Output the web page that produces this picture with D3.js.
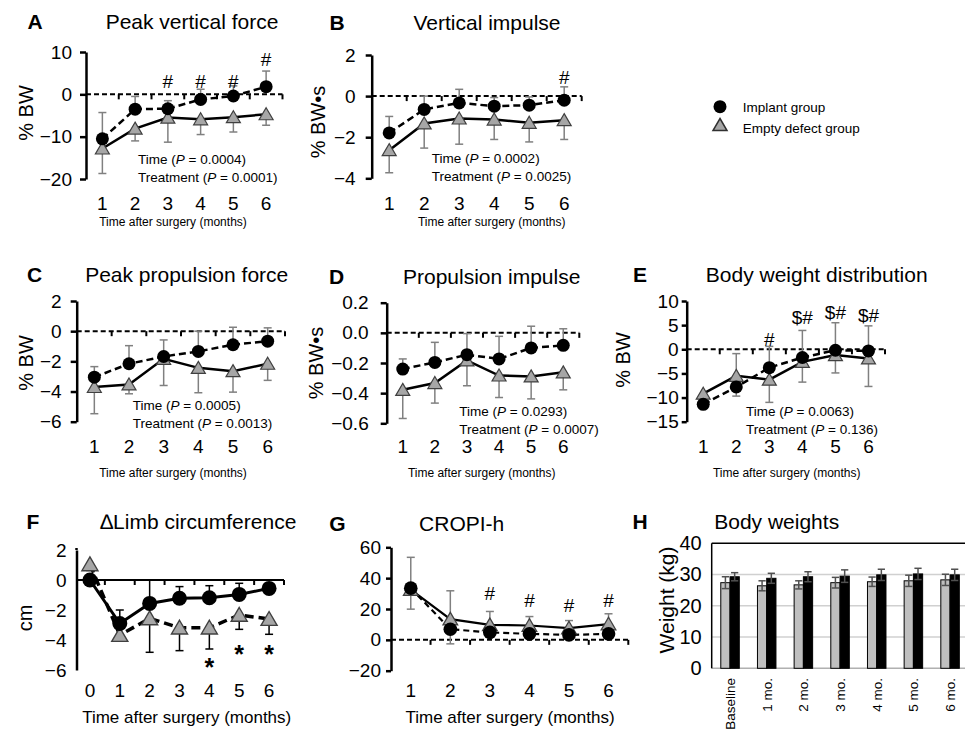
<!DOCTYPE html>
<html>
<head>
<meta charset="utf-8">
<script src="https://cdn.jsdelivr.net/npm/d3@7"></script>
<style>
  body { margin: 0; background: #fff; }
  text { font-family: Arial, "Liberation Sans", sans-serif; fill: #000; }
</style>
</head>
<body>
<script>
// Data
// ----
const months = [1, 2, 3, 4, 5, 6];
const monthsF = [0, 1, 2, 3, 4, 5, 6];
const timepoints = ["Baseline", "1 mo.", "2 mo.", "3 mo.", "4 mo.", "5 mo.", "6 mo."];

// A - peak vertical force (% BW)
const pvfImplant = [-10.5, -3.5, -3.4, -1.2, -0.4, 1.8];
const pvfImplantErr = [6.2, 3.0, 1.9, 2.4, 2.4, 3.7];
const pvfEmpty = [-12.8, -8.1, -5.5, -5.9, -5.4, -4.7];
const pvfEmptyErr = [5.9, 2.9, 5.8, 3.6, 3.5, 2.6];
const pvfSig = ["", "", "#", "#", "#", "#"];

// B - vertical impulse (% BW*s)
const viImplant = [-1.79, -0.65, -0.33, -0.49, -0.44, -0.2];
const viImplantErr = [0.8, 0.65, 0.66, 0.42, 0.4, 0.65];
const viEmpty = [-2.63, -1.33, -1.09, -1.14, -1.3, -1.17];
const viEmptyErr = [1.1, 1.2, 1.25, 0.97, 0.93, 0.94];
const viSig = ["", "", "", "", "", "#"];

// C - peak propulsion force (% BW)
const ppfImplant = [-3.05, -2.16, -1.68, -1.34, -0.9, -0.66];
const ppfImplantErr = [0.7, 1.2, 1.1, 1.34, 1.16, 0.88];
const ppfEmpty = [-3.7, -3.53, -1.83, -2.43, -2.65, -2.16];
const ppfEmptyErr = [1.77, 0.62, 1.77, 1.65, 1.39, 1.1];

// D - propulsion impulse (% BW*s)
const piImplant = [-0.24, -0.196, -0.145, -0.173, -0.1, -0.083];
const piImplantErr = [0.067, 0.133, 0.14, 0.15, 0.144, 0.11];
const piEmpty = [-0.378, -0.333, -0.183, -0.283, -0.289, -0.262];
const piEmptyErr = [0.19, 0.133, 0.168, 0.146, 0.149, 0.116];

// E - body weight distribution (% BW)
const bwdImplant = [-11.4, -7.8, -3.8, -1.7, -0.2, -0.35];
const bwdImplantErr = [0.8, 6.9, 4.4, 5.6, 5.7, 5.2];
const bwdEmpty = [-9.2, -5.5, -6.3, -2.6, -1.2, -1.9];
const bwdEmptyErr = [0.6, 4.2, 4.7, 4.2, 3.7, 5.8];
const bwdSig = ["", "", "#", "$#", "$#", "$#"];

// F - limb circumference change (cm)
const limbImplant = [0, -2.9, -1.56, -1.22, -1.18, -0.96, -0.56];
const limbImplantErr = [0.3, 0.9, 1.56, 0.78, 0.8, 0.74, 0.2];
const limbEmpty = [1.04, -3.67, -2.56, -3.18, -3.18, -2.33, -2.6];
const limbEmptyErr = [0.4, 0.2, 2.26, 1.53, 1.42, 0.96, 1.02];
const limbSig = ["", "", "", "", "*", "*", "*"];

// G - CROPI-h
const cropiImplant = [33.5, 6.9, 4.8, 3.9, 3.2, 3.9];
const cropiImplantErr = [13.6, 9.5, 3, 3, 2.5, 3];
const cropiEmpty = [32.5, 13.4, 9.7, 9.3, 7.6, 10.2];
const cropiEmptyErr = [21, 18.4, 8.7, 5.8, 4.9, 6.7];
const cropiSig = ["", "", "#", "#", "#", "#"];

// H - body weights (kg)
const weightEmpty = [27.4, 26.4, 26.7, 27.4, 27.7, 28.0, 28.3];
const weightEmptyErr = [1.9, 1.6, 1.3, 1.7, 1.5, 1.8, 1.8];
const weightImplant = [29.3, 28.8, 29.3, 29.5, 29.9, 30.2, 29.9];
const weightImplantErr = [1.3, 1.6, 1.6, 2.0, 1.8, 1.8, 1.8];


// Drawing
// -------
const svg = d3.select("body").append("svg")
  .attr("width", 965).attr("height", 738);

const TRI = "M0,-6.5L7,5.5L-7,5.5Z";

function label(g, str, x, y, size, opts = {}) {
  return g.append("text")
    .attr("x", x).attr("y", y).attr("dy", "0.35em")
    .attr("text-anchor", opts.anchor || "middle")
    .attr("font-size", size)
    .attr("font-weight", opts.bold ? "bold" : null)
    .text(str);
}

function drawLinePanel(p) {
  const g = svg.append("g");
  const x = d3.scaleBand().domain(p.cats).range([p.x0, p.x1]);
  const cx = c => x(c) + x.bandwidth() / 2;
  const y = d3.scaleLinear().domain(p.domain).range([p.yBot, p.yTop]);

  label(g, p.letter[0], p.letter[1], p.letter[2], 21, { bold: true });
  label(g, p.title[0], p.title[1], p.title[2], 21);

  // zero line with category boundary ticks
  g.append("line")
    .attr("x1", p.yAxisX).attr("x2", p.x1)
    .attr("y1", y(0)).attr("y2", y(0))
    .attr("stroke", "#000").attr("stroke-width", 2)
    .attr("stroke-dasharray", p.zeroSolid ? null : "5,3");
  const edges = p.cats.slice(1).map(c => x(c)).concat([p.x1]);
  g.selectAll("line.edge").data(edges).join("line")
    .attr("class", "edge")
    .attr("x1", d => d).attr("x2", d => d)
    .attr("y1", y(0)).attr("y2", y(0) + 5)
    .attr("stroke", "#000").attr("stroke-width", 2);

  // y axis
  const ax = g.append("g")
    .attr("transform", `translate(${p.yAxisX},0)`)
    .call(d3.axisLeft(y).tickValues(p.ticks)
      .tickFormat(p.fmt || d3.format("d"))
      .tickSize(p.tickLen).tickSizeOuter(0).tickPadding(p.tickPad));
  ax.select(".domain").attr("stroke-width", 2.5);
  ax.selectAll(".tick line").attr("stroke-width", 2.5);
  ax.selectAll("text").attr("font-size", 19).attr("fill", "#000");
  if (p.axisExtend) {
    g.append("line").attr("x1", p.yAxisX).attr("x2", p.yAxisX)
      .attr("y1", y(p.domain[1])).attr("y2", y(p.domain[1]) - p.axisExtend)
      .attr("stroke", "#000").attr("stroke-width", 2.5);
  }

  // x tick labels + titles
  g.selectAll("text.xl").data(p.cats).join("text")
    .attr("class", "xl")
    .attr("x", cx).attr("y", p.xLabY).attr("dy", "0.35em")
    .attr("text-anchor", "middle").attr("font-size", 19)
    .text(d => d);
  label(g, "Time after surgery (months)", p.xtitle[0], p.xtitle[1], p.xtitle[2]);
  if (p.ylabel) {
    g.append("text")
      .attr("transform", `translate(${p.ylabel[1]},${p.ylabel[2]}) rotate(-90)`)
      .attr("dy", "0.35em").attr("text-anchor", "middle")
      .attr("font-size", 20).text(p.ylabel[0]);
  }

  // error bars
  function errBars(vals, errs, dir) {
    const rows = p.cats.map((c, i) => ({
      x: cx(c), y0: y(vals[i]),
      y1: y(dir === "up" ? vals[i] + errs[i] : vals[i] - errs[i])
    }));
    const eg = g.append("g").attr("stroke", p.errColor).attr("stroke-width", 1.5);
    eg.selectAll("line.v").data(rows).join("line")
      .attr("x1", d => d.x).attr("x2", d => d.x)
      .attr("y1", d => d.y0).attr("y2", d => d.y1);
    eg.selectAll("line.c").data(rows).join("line")
      .attr("x1", d => d.x - 4).attr("x2", d => d.x + 4)
      .attr("y1", d => d.y1).attr("y2", d => d.y1);
  }
  errBars(p.empty, p.emptyErr, p.emptyDir);
  errBars(p.implant, p.implantErr, p.implantDir);

  // lines
  const line = d3.line().x((d, i) => cx(p.cats[i])).y(d => y(d));
  g.append("path").datum(p.empty).attr("d", line)
    .attr("fill", "none").attr("stroke", "#000")
    .attr("stroke-width", p.emptyW).attr("stroke-dasharray", p.emptyDash);
  g.append("path").datum(p.implant).attr("d", line)
    .attr("fill", "none").attr("stroke", "#000")
    .attr("stroke-width", p.implantW).attr("stroke-dasharray", p.implantDash);

  // markers
  g.selectAll("path.tri").data(p.empty).join("path")
    .attr("class", "tri")
    .attr("d", TRI)
    .attr("transform", (d, i) => `translate(${cx(p.cats[i])},${y(d)}) scale(${p.mk})`)
    .attr("fill", "#a6a6a6").attr("stroke", "#404040").attr("stroke-width", 1.2);
  g.selectAll("circle.imp").data(p.implant).join("circle")
    .attr("class", "imp")
    .attr("cx", (d, i) => cx(p.cats[i])).attr("cy", d => y(d))
    .attr("r", 6.5 * p.mk).attr("fill", "#000");

  // significance marks
  if (p.sig) {
    p.sig.forEach((s, i) => {
      if (!s) return;
      g.append("text")
        .attr("x", cx(p.cats[i])).attr("y", y(p.sigY[i]) + p.sigDy)
        .attr("text-anchor", "middle").attr("font-size", p.sigSize)
        .attr("font-weight", p.sigBold ? "bold" : null)
        .text(s);
    });
  }

  // statistics
  if (p.ann) {
    [["Time", p.ann[0]], ["Treatment", p.ann[1]]].forEach((a, k) => {
      const t = g.append("text")
        .attr("x", p.annX).attr("y", p.annY[k]).attr("dy", "0.35em")
        .attr("font-size", 13.5);
      t.append("tspan").text(a[0] + " (");
      t.append("tspan").attr("font-style", "italic").text("P");
      t.append("tspan").text(" = " + a[1] + ")");
    });
  }
}

const common = {
  cats: months, implantDir: "up", emptyDir: "down", errColor: "#808080",
  implantDash: "7,4", emptyDash: null, implantW: 2.5, emptyW: 2.5, mk: 1,
  tickLen: 6, sigDy: 7, sigSize: 19
};

drawLinePanel({ ...common,
  x0: 86, x1: 282.5, yAxisX: 86, domain: [-20, 10], yBot: 179, yTop: 52,
  ticks: [-20, -10, 0, 10], tickPad: 8, xLabY: 203,
  letter: ["A", 35, 22], title: ["Peak vertical force", 192, 22],
  ylabel: ["% BW", 26, 113], xtitle: [173, 222, 12],
  implant: pvfImplant, implantErr: pvfImplantErr, empty: pvfEmpty, emptyErr: pvfEmptyErr,
  sig: pvfSig, sigY: [0, 0, 3.1, 3.1, 3.1, 8.3],
  ann: ["0.0004", "0.0001"], annX: 138, annY: [159, 177]
});

drawLinePanel({ ...common,
  x0: 371.7, x1: 581.7, yAxisX: 371.7, domain: [-4, 2], yBot: 178.3, yTop: 55,
  ticks: [-4, -2, 0, 2], tickPad: 10, xLabY: 203,
  letter: ["B", 337, 23], title: ["Vertical impulse", 487, 23],
  ylabel: ["% BW\u2022s", 318, 122], xtitle: [491.7, 221.7, 12],
  implant: viImplant, implantErr: viImplantErr, empty: viEmpty, emptyErr: viEmptyErr,
  sig: viSig, sigY: [0, 0, 0, 0, 0, 0.93],
  ann: ["0.0002", "0.0025"], annX: 431.7, annY: [158, 176.7]
});

drawLinePanel({ ...common,
  x0: 77, x1: 285, yAxisX: 76.7, domain: [-6, 2], yBot: 421.7, yTop: 301,
  ticks: [-6, -4, -2, 0, 2], tickPad: 9, xLabY: 446.7,
  letter: ["C", 34.7, 275], title: ["Peak propulsion force", 186.7, 275],
  ylabel: ["% BW", 26, 363], xtitle: [173, 473, 12],
  implant: ppfImplant, implantErr: ppfImplantErr, empty: ppfEmpty, emptyErr: ppfEmptyErr,
  ann: ["0.0005", "0.0013"], annX: 132.7, annY: [405, 423.3]
});

drawLinePanel({ ...common,
  x0: 386.7, x1: 579.3, yAxisX: 386.7, domain: [-0.6, 0.2], yBot: 423.3, yTop: 302.7,
  ticks: [-0.6, -0.4, -0.2, 0, 0.2], fmt: d3.format(".1f"), tickPad: 12, xLabY: 446.7,
  letter: ["D", 336.7, 276.7], title: ["Propulsion impulse", 491.7, 276.7],
  ylabel: ["% BW\u2022s", 316, 363], xtitle: [481.7, 473, 12],
  implant: piImplant, implantErr: piImplantErr, empty: piEmpty, emptyErr: piEmptyErr,
  ann: ["0.0293", "0.0007"], annX: 459.3, annY: [411.7, 429.3]
});

drawLinePanel({ ...common,
  x0: 686.7, x1: 885, yAxisX: 686.7, domain: [-15, 10], yBot: 421.7, yTop: 301,
  ticks: [-15, -10, -5, 0, 5, 10], tickLen: 5, tickPad: 3, xLabY: 446.7,
  letter: ["E", 640, 275], title: ["Body weight distribution", 816.7, 275],
  ylabel: ["% BW", 623, 360], xtitle: [786.7, 473, 12],
  implant: bwdImplant, implantErr: bwdImplantErr, empty: bwdEmpty, emptyErr: bwdEmptyErr,
  sig: bwdSig, sigY: [0, 0, 2.2, 6.6, 7.7, 7.1],
  ann: ["0.0063", "0.136"], annX: 746, annY: [411.7, 429.3]
});

drawLinePanel({ ...common,
  cats: monthsF, x0: 75, x1: 284, yAxisX: 76.5, domain: [-6, 2], yBot: 670, yTop: 550,
  ticks: [-6, -4, -2, 0, 2], tickLen: 0, tickPad: 10, axisExtend: 2, xLabY: 690, zeroSolid: true,
  letter: ["F", 33, 521.7], title: ["\u2206Limb circumference", 198.3, 521.7],
  ylabel: ["cm", 25, 618], xtitle: [186.7, 716.7, 17],
  errColor: "#000", implantDash: null, emptyDash: "9,5", implantW: 3, emptyW: 3.5, mk: 1.15,
  implant: limbImplant, implantErr: limbImplantErr, empty: limbEmpty, emptyErr: limbEmptyErr,
  sig: limbSig, sigY: [0, 0, 0, 0, -5.67, -4.78, -4.78], sigSize: 25, sigDy: 11, sigBold: true
});

drawLinePanel({ ...common,
  x0: 391, x1: 628.3, yAxisX: 391, domain: [-20, 60], yBot: 670.7, yTop: 547.3,
  ticks: [-20, 0, 20, 40, 60], tickLen: 5, tickPad: 5, xLabY: 690,
  letter: ["G", 337.5, 523.3], title: ["CROPI-h", 461.7, 523.3],
  xtitle: [510, 716.7, 17],
  implantDir: "down", emptyDir: "up", implantDash: "6,4", implantW: 2.2, emptyW: 2.2, mk: 1.05,
  implant: cropiImplant, implantErr: cropiImplantErr, empty: cropiEmpty, emptyErr: cropiEmptyErr,
  sig: cropiSig, sigY: [0, 0, 30.3, 26, 22.3, 26]
});

// H - grouped bars
(function () {
  const g = svg.append("g");
  const x = d3.scaleBand().domain(timepoints).range([711.7, 968.4]);
  const y = d3.scaleLinear().domain([0, 40]).range([668.3, 543.3]);
  const half = 9.25;
  const sub = d3.scaleBand().domain(["empty", "implant"])
    .range([x.bandwidth() / 2 - half, x.bandwidth() / 2 + half]);

  label(g, "H", 640, 521.7, 21, { bold: true });
  label(g, "Body weights", 776.7, 521.7, 21);

  g.selectAll("line.grid").data([10, 20, 30]).join("line")
    .attr("x1", 711.7).attr("x2", 965)
    .attr("y1", d => y(d)).attr("y2", d => y(d))
    .attr("stroke", "#d0d0d0").attr("stroke-width", 1.5);
  g.append("line").attr("x1", 711.7).attr("x2", 965).attr("y1", y(0)).attr("y2", y(0))
    .attr("stroke", "#b0b0b0").attr("stroke-width", 1.5);
  g.append("line").attr("x1", 711.7).attr("x2", 965).attr("y1", y(40)).attr("y2", y(40))
    .attr("stroke", "#000").attr("stroke-width", 1.5);
  g.append("line").attr("x1", 711.7).attr("x2", 711.7).attr("y1", y(40)).attr("y2", y(0))
    .attr("stroke", "#000").attr("stroke-width", 1.5);

  const ax = g.append("g").attr("transform", "translate(711.7,0)")
    .call(d3.axisLeft(y).tickValues([0, 10, 20, 30, 40]).tickSize(0).tickPadding(10));
  ax.select(".domain").remove();
  ax.selectAll("text").attr("font-size", 20).attr("fill", "#000");

  g.append("text")
    .attr("transform", "translate(666.7,600) rotate(-90)")
    .attr("dy", "0.35em").attr("text-anchor", "middle")
    .attr("font-size", 21).text("Weight (kg)");

  const series = [
    { key: "empty", vals: weightEmpty, errs: weightEmptyErr, fill: "#bfbfbf" },
    { key: "implant", vals: weightImplant, errs: weightImplantErr, fill: "#000" }
  ];
  series.forEach(s => {
    const rows = timepoints.map((t, i) => ({
      x: x(t) + sub(s.key), v: s.vals[i], e: s.errs[i]
    }));
    g.selectAll(null).data(rows).join("rect")
      .attr("x", d => d.x).attr("width", sub.bandwidth())
      .attr("y", d => y(d.v)).attr("height", d => y(0) - y(d.v))
      .attr("fill", s.fill).attr("stroke", "#000").attr("stroke-width", 1);
    const eg = g.append("g").attr("stroke", "#505050").attr("stroke-width", 1.5);
    eg.selectAll("line.v").data(rows).join("line")
      .attr("x1", d => d.x + sub.bandwidth() / 2).attr("x2", d => d.x + sub.bandwidth() / 2)
      .attr("y1", d => y(d.v - d.e)).attr("y2", d => y(d.v + d.e));
    [1, -1].forEach(sgn => {
      eg.selectAll(null).data(rows).join("line")
        .attr("x1", d => d.x + 1).attr("x2", d => d.x + sub.bandwidth() - 1)
        .attr("y1", d => y(d.v + sgn * d.e)).attr("y2", d => y(d.v + sgn * d.e));
    });
  });

  g.selectAll("text.cat").data(timepoints).join("text")
    .attr("class", "cat")
    .attr("transform", d => `translate(${x(d) + x.bandwidth() / 2 + 5},678) rotate(-90)`)
    .attr("text-anchor", "end").attr("font-size", 13.5)
    .text(d => d);
})();

// Legend
const lg = svg.append("g");
lg.append("circle").attr("cx", 720).attr("cy", 106.7).attr("r", 6.5).attr("fill", "#000");
lg.append("path").attr("d", TRI).attr("transform", "translate(720,125)")
  .attr("fill", "#a6a6a6").attr("stroke", "#303030").attr("stroke-width", 1.5);
label(lg, "Implant group", 742.7, 107.3, 13.5, { anchor: "start" });
label(lg, "Empty defect group", 742.7, 128.3, 13.5, { anchor: "start" });
</script>
</body>
</html>
